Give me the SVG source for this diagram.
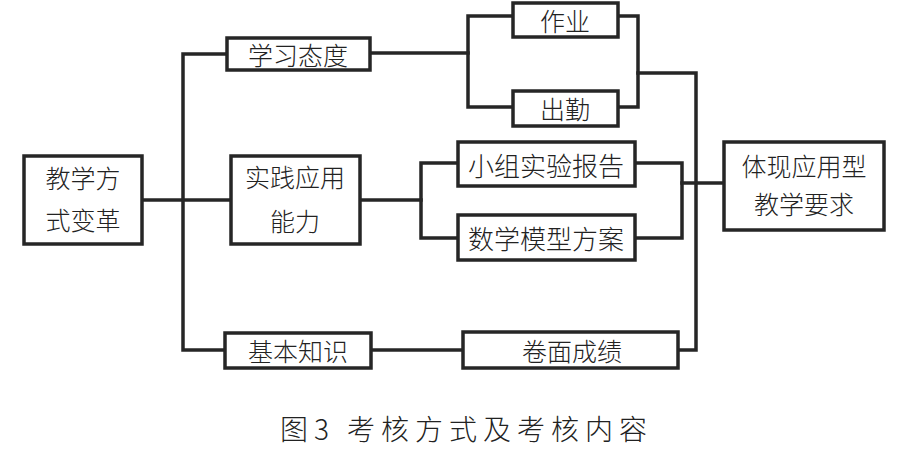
<svg xmlns="http://www.w3.org/2000/svg" width="906" height="450" viewBox="0 0 906 450">
<style>
.box{fill:#fff;stroke:#262626;stroke-width:3.5}
.ln{fill:none;stroke:#262626;stroke-width:3.5;stroke-linejoin:miter;stroke-linecap:square}
.t{font-family:"Noto Sans CJK SC","Noto Sans CJK JP",sans-serif;font-size:25px;font-weight:300;fill:#222;text-anchor:middle;dominant-baseline:central}
.cap{font-family:"Noto Sans CJK SC","Noto Sans CJK JP",serif;font-size:28px;font-weight:300;fill:#222;dominant-baseline:central}
</style>
<rect width="906" height="450" fill="#fff"/>
<g id="connectors">
<polyline class="ln" points="142,200 231,200"/>
<polyline class="ln" points="227,54 183,54 183,350 225,350"/>
<polyline class="ln" points="370,53 468,53"/>
<polyline class="ln" points="513,16 468,16 468,107 513,107"/>
<polyline class="ln" points="618,16 638,16 638,107 618,107"/>
<polyline class="ln" points="638,73 696,73 696,350 678,350"/>
<polyline class="ln" points="360,200 421,200"/>
<polyline class="ln" points="458,163 421,163 421,238 458,238"/>
<polyline class="ln" points="635,163 682,163 682,238 635,238"/>
<polyline class="ln" points="682,183 724,183"/>
<polyline class="ln" points="371,350 463,350"/>
</g>
<g id="n-jiaoxue">
<rect class="box" x="24" y="156" width="118" height="88"/>
<text class="t" x="83" y="177">教学方</text>
<text class="t" x="83" y="219">式变革</text>
</g>
<g id="n-xuexitaidu">
<rect class="box" x="227" y="38" width="143" height="32"/>
<text class="t" x="298" y="54">学习态度</text>
</g>
<g id="n-shijian">
<rect class="box" x="231" y="156" width="129" height="88"/>
<text class="t" x="295" y="176">实践应用</text>
<text class="t" x="295" y="220">能力</text>
</g>
<g id="n-jiben">
<rect class="box" x="225" y="333" width="146" height="35"/>
<text class="t" x="298" y="350">基本知识</text>
</g>
<g id="n-zuoye">
<rect class="box" x="513" y="3" width="105" height="34"/>
<text class="t" x="565" y="20">作业</text>
</g>
<g id="n-chuqin">
<rect class="box" x="513" y="91" width="105" height="35"/>
<text class="t" x="565" y="108">出勤</text>
</g>
<g id="n-xiaozu">
<rect class="box" x="458" y="142" width="177" height="44"/>
<text class="t" x="546" y="164" style="font-size:26px">小组实验报告</text>
</g>
<g id="n-shuxue">
<rect class="box" x="458" y="215" width="177" height="45"/>
<text class="t" x="546" y="237" style="font-size:26px">数学模型方案</text>
</g>
<g id="n-juanmian">
<rect class="box" x="463" y="332" width="215" height="36"/>
<text class="t" x="572" y="350">卷面成绩</text>
</g>
<g id="n-tixian">
<rect class="box" x="724" y="142" width="160" height="88"/>
<text class="t" x="804" y="165">体现应用型</text>
<text class="t" x="804" y="203">教学要求</text>
</g>
<text class="cap" x="280" y="428" textLength="367" lengthAdjust="spacing">图3 考核方式及考核内容</text>
</svg>
